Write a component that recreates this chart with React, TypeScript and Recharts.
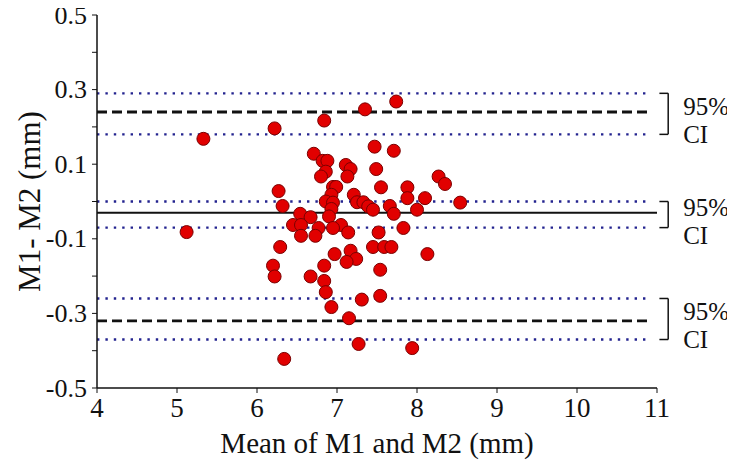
import React from "react";
import {
  ScatterChart,
  Scatter,
  XAxis,
  YAxis,
  ReferenceLine,
  Label,
} from "recharts";

// mean of the two measurements (mm)
const MEAN_X = [
  5.12, 5.33, 6.22, 6.84, 7.35, 7.74, 7.47, 7.71, 6.71, 6.82,
  6.88, 6.86, 6.8, 7.11, 7.17, 7.13, 7.49, 8.27, 8.35, 6.27,
  6.95, 6.99, 7.55, 7.88, 6.93, 7.21, 7.88, 8.1, 8.54, 6.86,
  6.95, 7.25, 7.33, 6.32, 7.39, 7.66, 6.93, 7.45, 8.0, 6.54,
  7.71, 6.67, 6.9, 6.45, 6.55, 7.05, 6.77, 6.95, 7.83, 6.55,
  6.73, 7.14, 7.52, 6.29, 7.45, 7.59, 7.68, 7.17, 6.97, 8.13,
  7.24, 7.12, 6.2, 6.84, 7.54, 6.22, 6.67, 6.84, 6.86, 7.54,
  7.31, 6.93, 7.15, 7.27, 7.94, 6.34,
];

// difference M1 - M2 (mm)
const DIFF_Y = [
  -0.082, 0.168, 0.196, 0.217, 0.247, 0.268, 0.147, 0.136, 0.128, 0.109,
  0.109, 0.08, 0.067, 0.098, 0.087, 0.067, 0.087, 0.067, 0.047, 0.028,
  0.039, 0.039, 0.038, 0.038, 0.018, 0.018, 0.009, 0.009, -0.003, 0.0,
  -0.003, -0.002, -0.002, -0.012, -0.013, -0.012, -0.02, -0.022, -0.022, -0.033,
  -0.033, -0.042, -0.04, -0.063, -0.063, -0.063, -0.071, -0.071, -0.071, -0.092,
  -0.092, -0.083, -0.083, -0.122, -0.122, -0.122, -0.122, -0.132, -0.141, -0.141,
  -0.154, -0.162, -0.172, -0.172, -0.183, -0.201, -0.201, -0.213, -0.243, -0.253,
  -0.263, -0.283, -0.313, -0.382, -0.393, -0.422,
];

// limits of agreement with their 95% CI
const LIMIT_VALUES = [0.24, -0.03, -0.32];
const CI_HIGH = [0.29, 0.0, -0.26];
const CI_LOW = [0.18, -0.07, -0.37];
const CI_TEXT = ["95%", "CI"];

const X_TICKS = [4, 5, 6, 7, 8, 9, 10, 11];
const Y_TICKS = [-0.5, -0.4, -0.3, -0.2, -0.1, 0, 0.1, 0.2, 0.3, 0.4, 0.5];

const X_TITLE = "Mean of M1 and M2 (mm)";
const Y_TITLE = "M1- M2 (mm)";

const data = MEAN_X.map((x, i) => ({ x, y: DIFF_Y[i] }));

const FONT = "Liberation Serif, DejaVu Serif";
const LINE_END = 10.93;
const BRACKET_X = 11.14;

const Dot = (props: any) => (
  <circle cx={props.cx} cy={props.cy} r={6.5} fill="#e10000" stroke="#7a0000" strokeWidth={1} />
);

const YTick = (props: any) => {
  const { x, y, payload } = props;
  const v = payload.value;
  if (Math.round(Math.abs(v) * 10) % 2 === 0) return null;
  return (
    <text x={x} y={y} textAnchor="end" dominantBaseline="central" fontFamily={FONT} fontSize={26} fill="#111">
      {v.toFixed(1)}
    </text>
  );
};

const XTick = (props: any) => {
  const { x, y, payload } = props;
  return (
    <text x={x} y={y + 13} textAnchor="middle" dominantBaseline="central" fontFamily={FONT} fontSize={27} fill="#111">
      {payload.value}
    </text>
  );
};

const CiLabel = (props: any) => {
  const vb = props.viewBox || {};
  const x = (vb.x ?? 0) + 15;
  const mid = (vb.y ?? 0) + (vb.height ?? 0) / 2;
  return (
    <g fontFamily={FONT} fontSize={25} fill="#111">
      <text x={x} y={mid - 7} dominantBaseline="central">{CI_TEXT[0]}</text>
      <text x={x} y={mid + 21} dominantBaseline="central">{CI_TEXT[1]}</text>
    </g>
  );
};

export default function App() {
  return (
    <div style={{ margin: -8, width: 735, height: 468, background: "#fff" }}>
      <ScatterChart
        width={735}
        height={468}
        margin={{ top: 15, right: 78, bottom: 8, left: 0 }}
        style={{ overflow: "visible" }}
      >
        <XAxis
          type="number"
          dataKey="x"
          domain={[4, 11]}
          ticks={X_TICKS}
          allowDataOverflow
          height={72}
          tickSize={5}
          axisLine={{ stroke: "#111", strokeWidth: 1.5 }}
          tickLine={{ stroke: "#111" }}
          tick={<XTick />}
        >
          <Label
            content={(p: any) => {
              const vb = p.viewBox;
              return (
                <text
                  x={vb.x + vb.width / 2}
                  y={vb.y + 55}
                  textAnchor="middle"
                  dominantBaseline="central"
                  fontFamily={FONT}
                  fontSize={29}
                  fill="#111"
                >
                  {X_TITLE}
                </text>
              );
            }}
          />
        </XAxis>
        <YAxis
          type="number"
          dataKey="y"
          domain={[-0.5, 0.5]}
          ticks={Y_TICKS}
          allowDataOverflow
          width={97}
          tickSize={5}
          tickMargin={5}
          axisLine={{ stroke: "#111", strokeWidth: 1.5 }}
          tickLine={{ stroke: "#111" }}
          tick={<YTick />}
        >
          <Label
            content={(p: any) => {
              const vb = p.viewBox;
              const cx = vb.x + 29;
              const cy = vb.y + vb.height / 2;
              return (
                <text
                  x={cx}
                  y={cy}
                  transform={`rotate(-90 ${cx} ${cy})`}
                  textAnchor="middle"
                  dominantBaseline="central"
                  fontFamily={FONT}
                  fontSize={31}
                  fill="#111"
                >
                  {Y_TITLE}
                </text>
              );
            }}
          />
        </YAxis>

        {CI_HIGH.map((v, i) => (
          <ReferenceLine
            key={`hi-${i}`}
            segment={[{ x: 4, y: v }, { x: LINE_END, y: v }]}
            stroke="#23238f"
            strokeWidth={2.4}
            strokeDasharray="2.4 6"
            ifOverflow="visible"
          />
        ))}
        {CI_LOW.map((v, i) => (
          <ReferenceLine
            key={`lo-${i}`}
            segment={[{ x: 4, y: v }, { x: LINE_END, y: v }]}
            stroke="#23238f"
            strokeWidth={2.4}
            strokeDasharray="2.4 6"
            ifOverflow="visible"
          />
        ))}
        {LIMIT_VALUES.map((v, i) => (
          <ReferenceLine
            key={`lim-${i}`}
            segment={[{ x: 4, y: v }, { x: i === 1 ? 11 : LINE_END, y: v }]}
            stroke="#111"
            strokeWidth={i === 1 ? 2 : 2.8}
            strokeDasharray={i === 1 ? undefined : "10 5"}
            ifOverflow="visible"
          />
        ))}

        {/* brackets on the right */}
        {CI_HIGH.map((v, i) => (
          <ReferenceLine
            key={`bt-${i}`}
            segment={[{ x: 11.03, y: v }, { x: BRACKET_X, y: v }]}
            stroke="#111"
            strokeWidth={1.5}
            ifOverflow="visible"
          />
        ))}
        {CI_LOW.map((v, i) => (
          <ReferenceLine
            key={`bb-${i}`}
            segment={[{ x: 11.03, y: v }, { x: BRACKET_X, y: v }]}
            stroke="#111"
            strokeWidth={1.5}
            ifOverflow="visible"
          />
        ))}
        {CI_HIGH.map((v, i) => (
          <ReferenceLine
            key={`bv-${i}`}
            segment={[{ x: BRACKET_X, y: v }, { x: BRACKET_X, y: CI_LOW[i] }]}
            stroke="#111"
            strokeWidth={1.5}
            ifOverflow="visible"
            label={<CiLabel />}
          />
        ))}

        <Scatter data={data} shape={<Dot />} isAnimationActive={false} />
      </ScatterChart>
    </div>
  );
}
